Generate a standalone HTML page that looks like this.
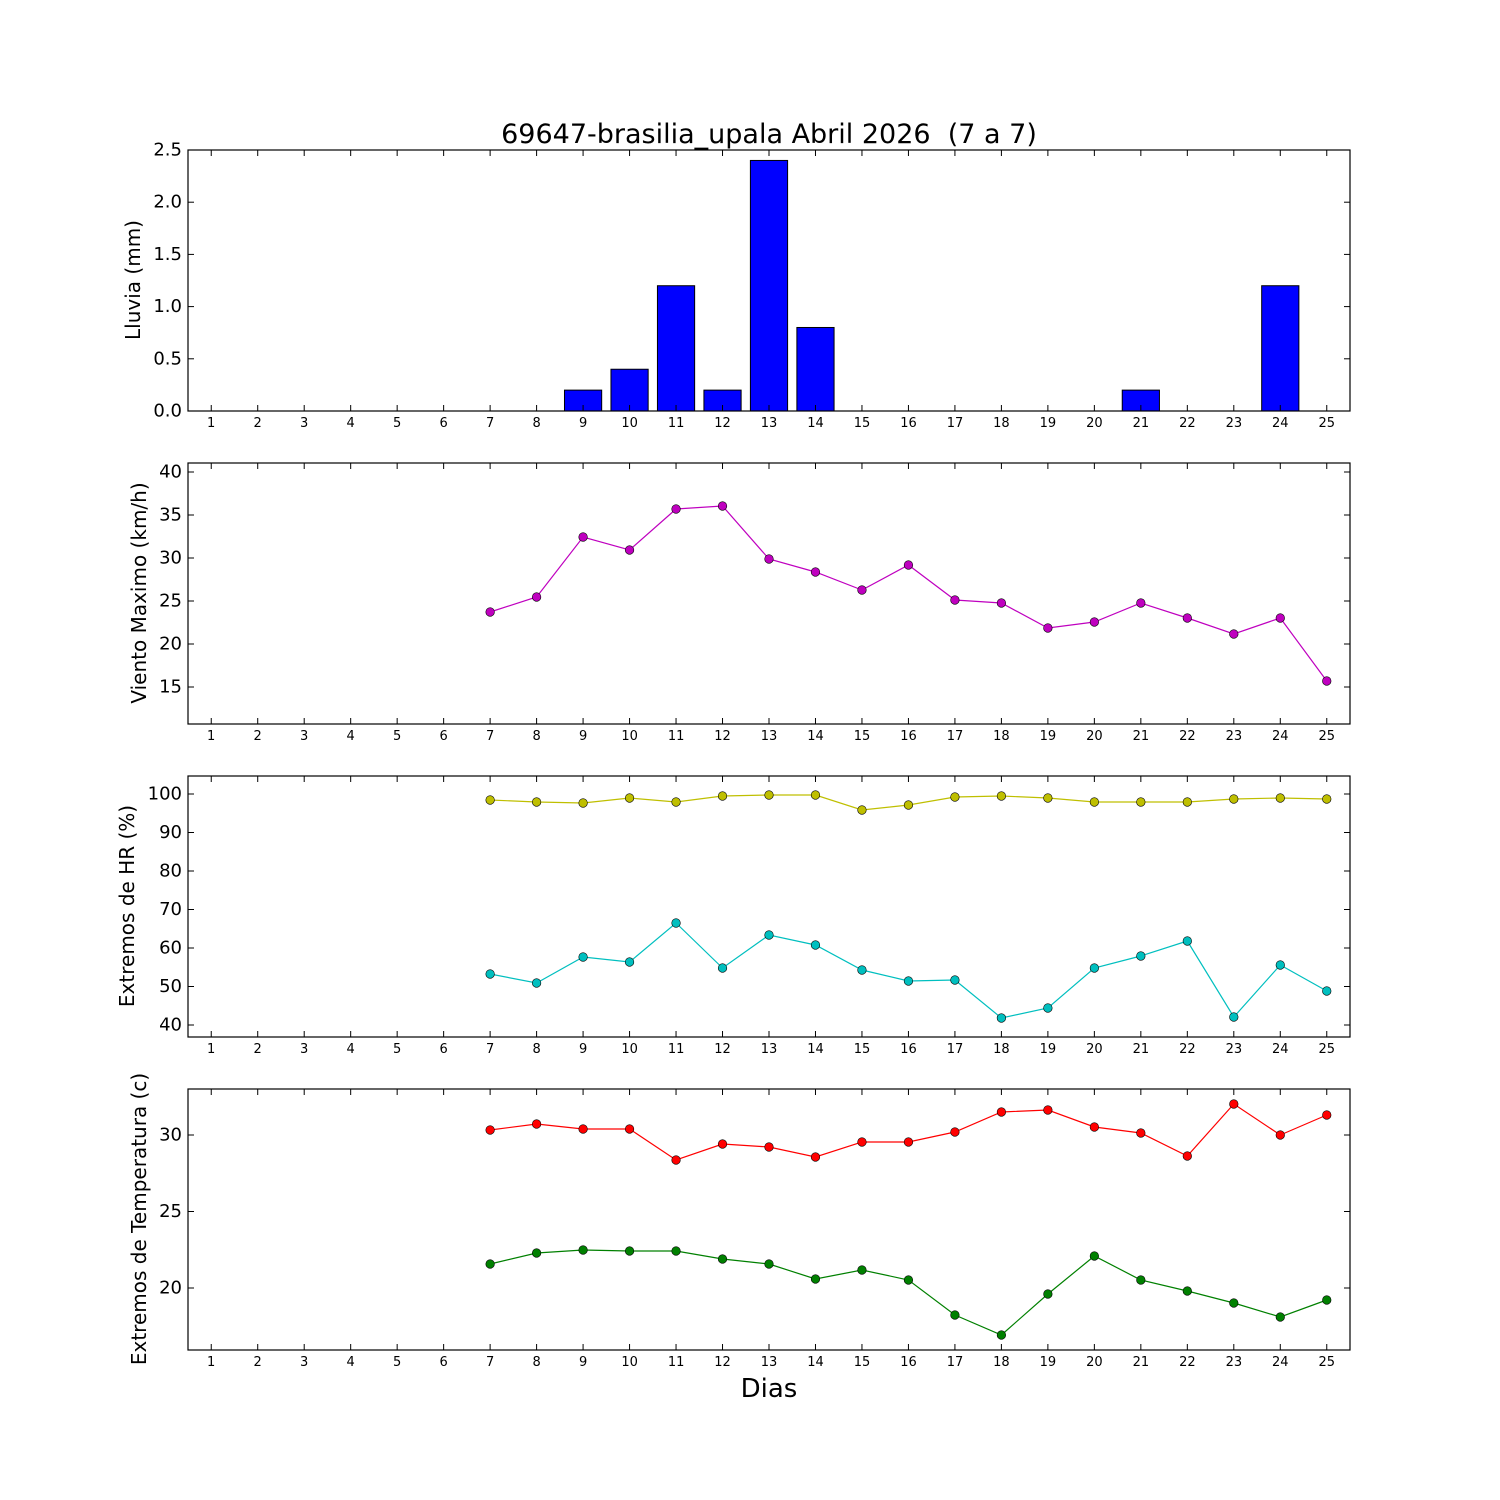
<!DOCTYPE html>
<html><head><meta charset="utf-8"><style>
body{margin:0;background:#fff}
svg{display:block;font-family:"DejaVu Sans","Liberation Sans",sans-serif}
.yt{font-size:18px;text-anchor:end;dominant-baseline:central}
.xt{font-size:13px;text-anchor:middle}
.yl{font-size:20px;text-anchor:middle}
</style></head><body>
<svg id="s" width="1500" height="1500" xmlns="http://www.w3.org/2000/svg">
<rect width="1500" height="1500" fill="#fff"/>
<g id="g"></g>
<text x="769" y="143" font-size="27" text-anchor="middle">69647-brasilia_upala Abril 2026 &#160;(7 a 7)</text>
<text x="769" y="1397" font-size="26" text-anchor="middle">Dias</text>
<text class="yl" transform="translate(140,280) rotate(-90)">Lluvia (mm)</text>
<text class="yl" transform="translate(146,593) rotate(-90)">Viento Maximo (km/h)</text>
<text class="yl" transform="translate(134,906) rotate(-90)">Extremos de HR (%)</text>
<text class="yl" transform="translate(146,1219) rotate(-90)">Extremos de Temperatura (c)</text>
<g class="yt">
<text x="182" y="411">0.0</text><text x="182" y="358.8">0.5</text><text x="182" y="306.6">1.0</text><text x="182" y="254.4">1.5</text><text x="182" y="202.2">2.0</text><text x="182" y="150">2.5</text>
<text x="182" y="687">15</text><text x="182" y="644">20</text><text x="182" y="601">25</text><text x="182" y="558">30</text><text x="182" y="515">35</text><text x="182" y="472">40</text>
<text x="182" y="1025">40</text><text x="182" y="986.5">50</text><text x="182" y="948">60</text><text x="182" y="909.5">70</text><text x="182" y="871">80</text><text x="182" y="832.5">90</text><text x="182" y="794">100</text>
<text x="182" y="1288">20</text><text x="182" y="1211.5">25</text><text x="182" y="1135">30</text>
</g>
<g class="xt" id="xl">
<g id="row"><text x="211.2">1</text><text x="257.7">2</text><text x="304.2">3</text><text x="350.7">4</text><text x="397.2">5</text><text x="443.6">6</text><text x="490.1">7</text><text x="536.6">8</text><text x="583.1">9</text><text x="629.6">10</text><text x="676.1">11</text><text x="722.5">12</text><text x="769">13</text><text x="815.5">14</text><text x="862">15</text><text x="908.5">16</text><text x="955">17</text><text x="1001.4">18</text><text x="1047.9">19</text><text x="1094.4">20</text><text x="1140.9">21</text><text x="1187.4">22</text><text x="1233.9">23</text><text x="1280.3">24</text><text x="1326.8">25</text></g>
</g>
</svg>
<script>
const NS="http://www.w3.org/2000/svg",g=document.getElementById('g');
function el(t,a){const e=document.createElementNS(NS,t);for(const k in a)e.setAttribute(k,a[k]);g.appendChild(e);return e;}
const X=d=>188+(d-0.5)*46.48;
const tops=[150,463,776,1089],bots=[411,724,1037,1350];
const yt=[[411,358.8,306.6,254.4,202.2,150],[687,644,601,558,515,472],[1025,986.5,948,909.5,871,832.5,794],[1288,1211.5,1135]];
const row=document.getElementById('row');row.querySelectorAll('text').forEach(t=>t.setAttribute('y',427));
[740,1053,1366].forEach(y=>{const c=row.cloneNode(true);c.removeAttribute('id');c.querySelectorAll('text').forEach(t=>t.setAttribute('y',y));document.getElementById('xl').appendChild(c);});
const bars={9:0.2,10:0.4,11:1.2,12:0.2,13:2.4,14:0.8,21:0.2,24:1.2};
for(let d=7;d<=25;d++){const v=bars[d]||0;const h=v*104.4;el('rect',{x:X(d)-18.6,y:411-h,width:37.2,height:h,fill:'#00f',stroke:'#000','stroke-width':1});}
function series(ys,col){const pts=ys.map((y,i)=>X(7+i)+','+y).join(' ');el('polyline',{points:pts,fill:'none',stroke:col,'stroke-width':1.2});ys.forEach((y,i)=>el('circle',{cx:X(7+i),cy:y,r:4.3,fill:col,stroke:'#000','stroke-width':0.6}));}
series([612,597,537,550,509,506,559,572,590,565,600,603,628,622,603,618,634,618,681],'#bf00bf');
series([800,802,803,798,802,796,795,795,810,805,797,796,798,802,802,802,799,798,799],'#bfbf00');
series([974,983,957,962,923,968,935,945,970,981,980,1018,1008,968,956,941,1017,965,991],'#00bfbf');
series([1130,1124,1129,1129,1160,1144,1147,1157,1142,1142,1132,1112,1110,1127,1133,1156,1104,1135,1115],'#f00');
series([1264,1253,1250,1251,1251,1259,1264,1279,1270,1280,1315,1335,1294,1256,1280,1291,1303,1317,1300],'#008000');
for(let p=0;p<4;p++){const t=tops[p],b=bots[p];
 for(let d=1;d<=25;d++){const x=X(d);el('line',{x1:x,x2:x,y1:b,y2:b-6,stroke:'#000'});el('line',{x1:x,x2:x,y1:t,y2:t+6,stroke:'#000'});}
 yt[p].forEach(y=>{el('line',{x1:188,x2:194,y1:y,y2:y,stroke:'#000'});el('line',{x1:1350,x2:1344,y1:y,y2:y,stroke:'#000'});});
 el('rect',{x:188,y:t,width:1162,height:b-t,fill:'none',stroke:'#000','stroke-width':1.2});}
</script>
</body></html>
